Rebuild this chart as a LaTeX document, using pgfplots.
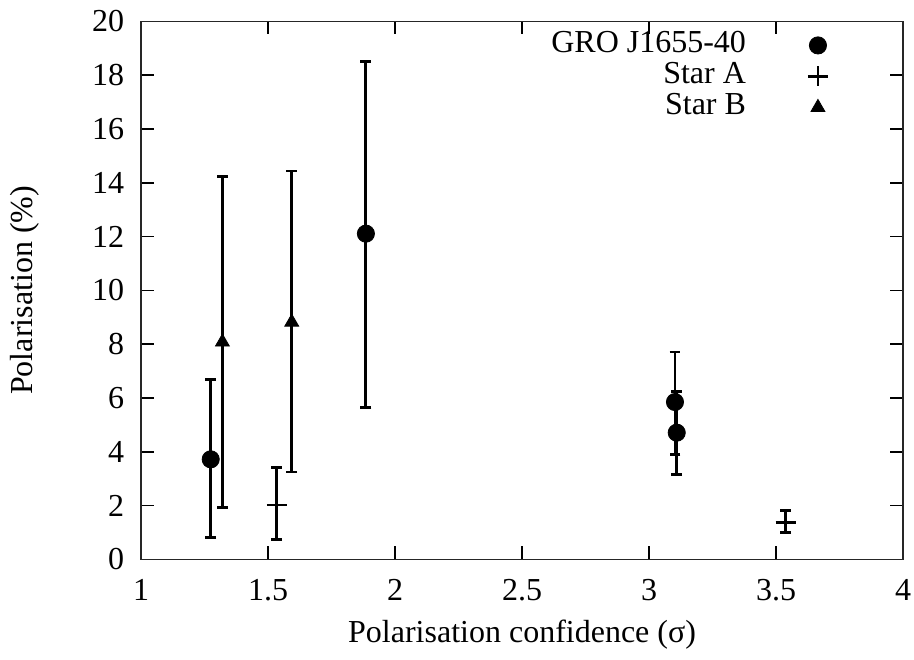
\documentclass[border=0pt]{standalone}
\usepackage{pgfplots}
\pgfplotsset{compat=1.18}
\usepackage{fontspec}
\setmainfont{Liberation Serif}
\begin{document}
\fontsize{16bp}{19bp}\selectfont
\begin{tikzpicture}
\begin{axis}[
  scale only axis,
  width=381bp, height=269bp,
  xmin=1, xmax=4, ymin=0, ymax=20,
  xtick={1,1.5,2,2.5,3,3.5,4},
  ytick={0,2,...,20},
  xticklabels={1,1.5,2,2.5,3,3.5,4},
  /pgf/number format/assume math mode=true,
  tick style={black, line width=0.8bp},
  major tick length=6.5bp,
  axis line style={line width=0.8bp, black!85},
  every axis x label/.style={at={(rel axis cs:0.5,0)}, anchor=center, yshift=-37.5bp},
  every axis y label/.style={at={(rel axis cs:0,0.5)}, anchor=center, xshift=-58bp, rotate=90},
  xlabel={Polarisation confidence (σ)},
  ylabel={Polarisation (\%)},
  xticklabel style={anchor=center, inner ysep=0pt, inner xsep=1.5bp, yshift=-15.5bp},
  yticklabel style={xshift=-3bp},
  legend plot pos=right,
  legend cell align=right,
  legend style={draw=none, fill=none, at={(rel axis cs:0.902,0.985)}, anchor=north east,
    inner sep=0pt, row sep=0pt, column sep=30bp,
    nodes={inner sep=1bp, text height=10.5bp, text depth=3bp}},
  legend image code/.code={\draw[#1, mark repeat=2, mark phase=2] plot coordinates {(0cm,0cm) (0.3cm,0cm) (0.6cm,0cm)};},
  error bars/y dir=both, error bars/y explicit,
  error bars/error bar style={line width=1.4bp, black},
  error bars/error mark options={line width=1.4bp, black, mark size=2.7bp, rotate=90},
]
\addplot[only marks, mark=*, mark size=4.3bp, black]
  coordinates {
  (1.274,3.72) += (0,2.97) -= (0,2.91)
  (1.885,12.11) += (0,6.41) -= (0,6.45)
  (3.102,5.85) += (0,1.86) -= (0,1.95)
  (3.109,4.71) += (0,1.52) -= (0,1.55)
  };
\addlegendentry{GRO J1655-40}
\addplot[only marks, mark=+, mark size=5bp, black, mark options={line width=1.4bp}]
  coordinates {
  (1.534,2.02) += (0,1.41) -= (0,1.28)
  (3.538,1.36) += (0,0.47) -= (0,0.37)
  };
\addlegendentry{Star A}
\addplot[only marks, mark=triangle*, mark size=4bp, black]
  coordinates {
  (1.320,8.08) += (0,6.17) -= (0,6.14)
  (1.593,8.82) += (0,5.62) -= (0,5.57)
  };
\addlegendentry{Star B}
\end{axis}
\end{tikzpicture}
\end{document}
